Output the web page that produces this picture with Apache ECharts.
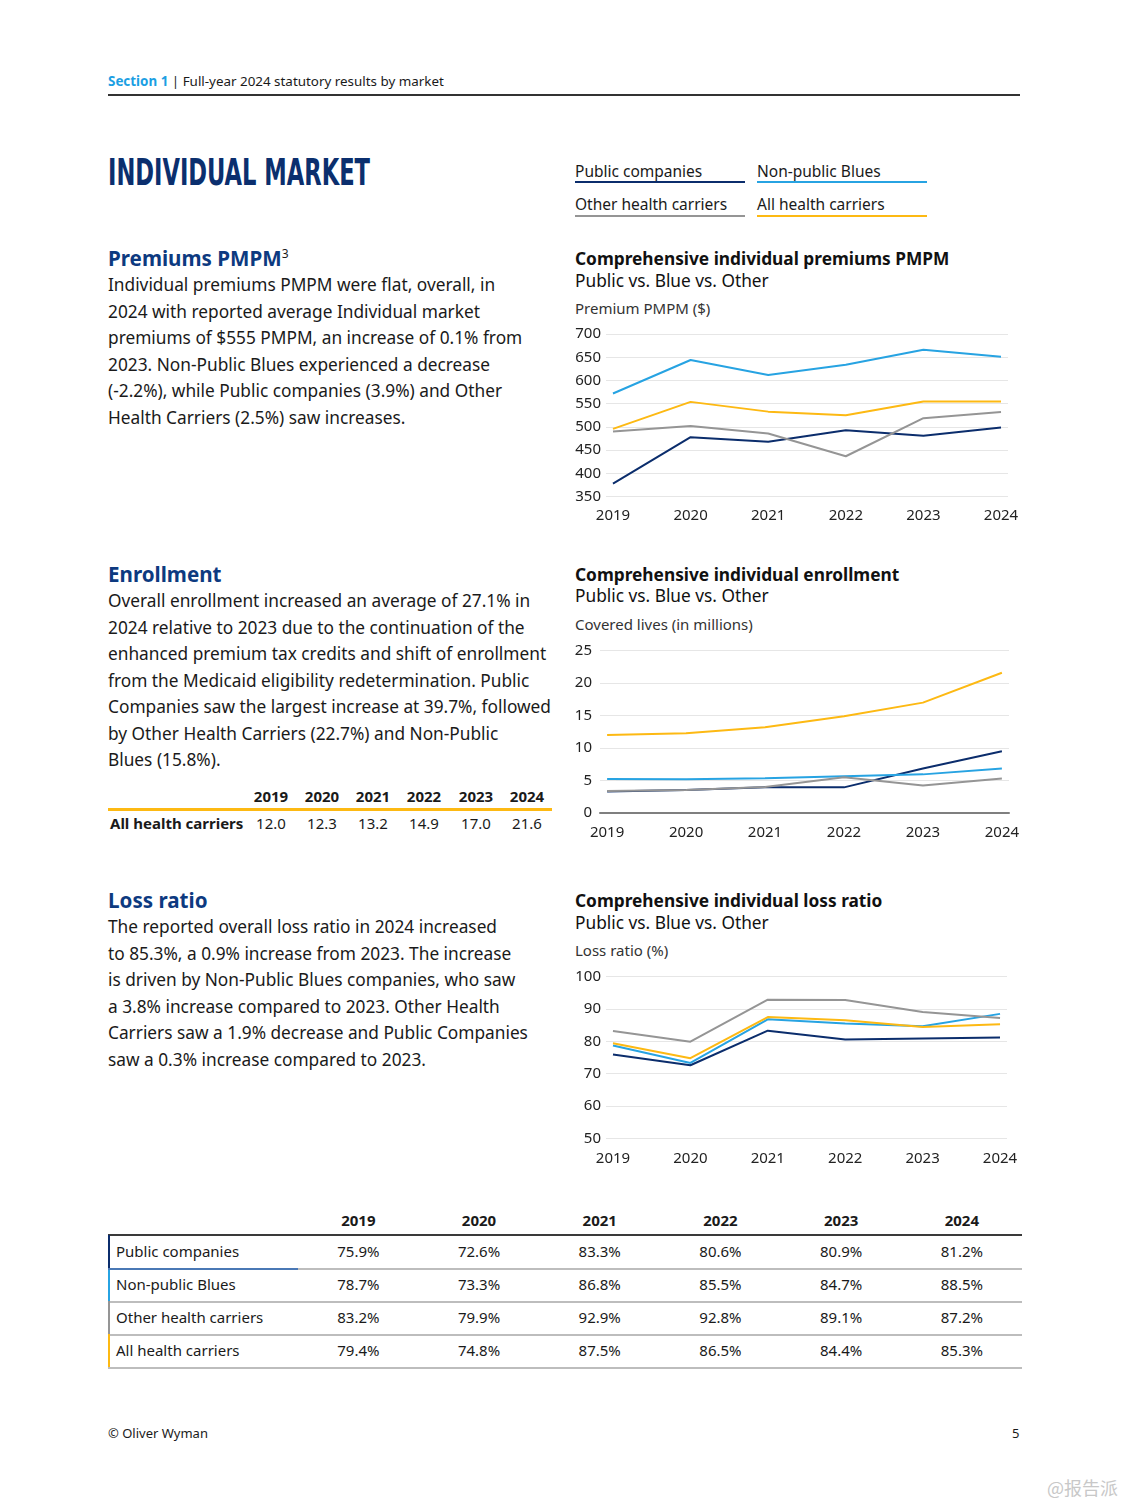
<!DOCTYPE html>
<html>
<head>
<meta charset="utf-8">
<script src="https://cdn.jsdelivr.net/npm/echarts@6/dist/echarts.min.js"></script>
<style>
  html, body { margin: 0; padding: 0; background: #fff; }
  body { width: 1128px; height: 1500px; position: relative; overflow: hidden; font-family: "Noto Sans", "Open Sans", sans-serif; color: #1a1a1a; }
  .t { position: absolute; white-space: nowrap; }
  .h2 { font-weight: 700; font-size: 20.6px; color: #0d3a80; line-height: 26px; }
  .p { font-size: 17.3px; line-height: 26.5px; color: #1a1a1a; }
  .ct { font-weight: 700; font-size: 17.3px; line-height: 22px; color: #111; }
  .cs { font-size: 17.3px; line-height: 22px; color: #111; }
  .ax { font-size: 15px; line-height: 20px; color: #333; }
  .lg { font-size: 15.5px; line-height: 20px; color: #1a1a1a; }
  .bar { position: absolute; height: 2px; }
  #chart { position: absolute; left: 0; top: 0; width: 1128px; height: 1500px; }
</style>
</head>
<body>

<!-- header -->
<div class="t" style="left:108px; top:71px; font-size:13.4px; line-height:20px;"><span style="color:#1c9fe3; font-weight:700;">Section 1</span> | Full-year 2024 statutory results by market</div>
<div class="bar" style="left:108px; top:94px; width:912px; height:1.5px; background:#333;"></div>

<div id="title" class="t" style="left:108px; top:150px; font-family:'Liberation Sans Narrow','DejaVu Sans Condensed',sans-serif; font-weight:700; font-size:37px; line-height:46px; color:#0b2f6e; transform-origin:0 50%;">INDIVIDUAL MARKET</div>

<!-- legend -->
<div class="t lg" style="left:575px; top:161px;">Public companies</div>
<div class="bar" style="left:575px; top:181px; width:170px; background:#0b2d6c;"></div>
<div class="t lg" style="left:757px; top:161px;">Non-public Blues</div>
<div class="bar" style="left:757px; top:181px; width:170px; background:#27a3e2;"></div>
<div class="t lg" style="left:575px; top:194px;">Other health carriers</div>
<div class="bar" style="left:575px; top:215px; width:170px; background:#959595;"></div>
<div class="t lg" style="left:757px; top:194px;">All health carriers</div>
<div class="bar" style="left:757px; top:215px; width:170px; background:#fdb913;"></div>

<!-- Premiums section -->
<div class="t h2" style="left:108px; top:245px;">Premiums PMPM<sup style="font-size:12px; font-weight:400; vertical-align:8px; line-height:0; color:#1a1a1a;">3</sup></div>
<div class="t p" style="left:108px; top:272px;">Individual premiums PMPM were flat, overall, in<br>2024 with reported average Individual market<br>premiums of $555 PMPM, an increase of 0.1% from<br>2023. Non-Public Blues experienced a decrease<br>(-2.2%), while Public companies (3.9%) and Other<br>Health Carriers (2.5%) saw increases.</div>

<div class="t ct" style="left:575px; top:248px;">Comprehensive individual premiums PMPM</div>
<div class="t cs" style="left:575px; top:270px;">Public vs. Blue vs. Other</div>
<div class="t ax" style="left:575px; top:298px;">Premium PMPM ($)</div>

<!-- Enrollment section -->
<div class="t h2" style="left:108px; top:561px;">Enrollment</div>
<div class="t p" style="left:108px; top:588px;">Overall enrollment increased an average of 27.1% in<br>2024 relative to 2023 due to the continuation of the<br>enhanced premium tax credits and shift of enrollment<br>from the Medicaid eligibility redetermination. Public<br>Companies saw the largest increase at 39.7%, followed<br>by Other Health Carriers (22.7%) and Non-Public<br>Blues (15.8%).</div>

<div id="enrTable"></div>

<div class="t ct" style="left:575px; top:564px;">Comprehensive individual enrollment</div>
<div class="t cs" style="left:575px; top:585px;">Public vs. Blue vs. Other</div>
<div class="t ax" style="left:575px; top:614px;">Covered lives (in millions)</div>

<!-- Loss ratio section -->
<div class="t h2" style="left:108px; top:887px;">Loss ratio</div>
<div class="t p" style="left:108px; top:914px;">The reported overall loss ratio in 2024 increased<br>to 85.3%, a 0.9% increase from 2023. The increase<br>is driven by Non-Public Blues companies, who saw<br>a 3.8% increase compared to 2023. Other Health<br>Carriers saw a 1.9% decrease and Public Companies<br>saw a 0.3% increase compared to 2023.</div>

<div class="t ct" style="left:575px; top:890px;">Comprehensive individual loss ratio</div>
<div class="t cs" style="left:575px; top:912px;">Public vs. Blue vs. Other</div>
<div class="t ax" style="left:575px; top:940px;">Loss ratio (%)</div>

<div id="lossTable"></div>

<!-- footer -->
<div class="t" style="left:108px; top:1423px; font-size:13px; line-height:20px;">© Oliver Wyman</div>
<div class="t" style="left:1012px; top:1423px; font-size:13px; line-height:20px;">5</div>
<div class="t" style="left:1047px; top:1476px; font-size:18px; line-height:22px; color:#c8c8c8; font-family:'Noto Sans CJK SC',sans-serif;">@报告派</div>

<div id="chart"></div>

<script>
// ---------------- data ----------------
const years = [2019, 2020, 2021, 2022, 2023, 2024];
const seriesNames = ['Public companies', 'Non-public Blues', 'Other health carriers', 'All health carriers'];

const premPublic = [378, 478, 468, 493, 481, 499];
const premBlues  = [572, 644, 612, 634, 666, 651];
const premOther  = [490, 502, 486, 437, 519, 532];
const premAll    = [496, 554, 533, 525, 555, 555];

const enrPublic = [3.3, 3.55, 3.95, 3.95, 6.85, 9.5];
const enrBlues  = [5.25, 5.2, 5.35, 5.65, 5.95, 6.85];
const enrOther  = [3.4, 3.55, 4.0, 5.5, 4.25, 5.3];
const enrAll    = [12.0, 12.3, 13.2, 14.9, 17.0, 21.6];

const lossPublic = [75.9, 72.6, 83.3, 80.6, 80.9, 81.2];
const lossBlues  = [78.7, 73.3, 86.8, 85.5, 84.7, 88.5];
const lossOther  = [83.2, 79.9, 92.9, 92.8, 89.1, 87.2];
const lossAll    = [79.4, 74.8, 87.5, 86.5, 84.4, 85.3];

const premTicks = [350, 700, 50];
const enrTicks  = [0, 25, 5];
const lossTicks = [50, 100, 10];

// ---------------- styles ----------------
const colors = ['#0b2d6c', '#27a3e2', '#959595', '#fdb913'];
const FONT = '"Noto Sans", "Open Sans", sans-serif';

// title squeeze
(function(){
  const el = document.getElementById('title');
  const w = el.getBoundingClientRect().width;
  el.style.transform = 'scaleX(' + (262 / w) + ')';
})();

// enrollment table
(function(){
  const host = document.getElementById('enrTable');
  const centers = [271, 322, 373, 424, 476, 527];
  let html = '';
  years.forEach((y, i) => {
    html += '<div class="t" style="left:' + (centers[i] - 25) + 'px; width:50px; text-align:center; top:786px; font-size:15px; line-height:20px; font-weight:700;">' + y + '</div>';
    html += '<div class="t" style="left:' + (centers[i] - 25) + 'px; width:50px; text-align:center; top:813px; font-size:15px; line-height:20px;">' + enrAll[i].toFixed(1) + '</div>';
  });
  html += '<div class="bar" style="left:108px; top:808px; width:444px; height:2.5px; background:#fdb913;"></div>';
  html += '<div class="t" style="left:110px; top:813px; font-size:15px; line-height:20px; font-weight:700;">All health carriers</div>';
  host.innerHTML = html;
})();

// loss table
(function(){
  const host = document.getElementById('lossTable');
  const rows = [lossPublic, lossBlues, lossOther, lossAll];
  const rowTop = [1235, 1268, 1301, 1334];
  const colLeft = 298, colW = 120.7;
  let html = '';
  years.forEach((y, i) => {
    html += '<div class="t" style="left:' + (colLeft + colW * i) + 'px; width:' + colW + 'px; text-align:center; top:1210px; font-size:15px; line-height:20px; font-weight:700;">' + y + '</div>';
  });
  html += '<div class="bar" style="left:108px; top:1234px; width:914px; height:2px; background:#3a3a3a;"></div>';
  rows.forEach((r, k) => {
    const top = rowTop[k];
    html += '<div class="bar" style="left:108px; top:' + top + 'px; width:2px; height:33px; background:' + colors[k] + ';"></div>';
    html += '<div class="t" style="left:116px; top:' + (top + 6) + 'px; font-size:15px; line-height:20px;">' + seriesNames[k] + '</div>';
    r.forEach((v, i) => {
      html += '<div class="t" style="left:' + (colLeft + colW * i) + 'px; width:' + colW + 'px; text-align:center; top:' + (top + 6) + 'px; font-size:15px; line-height:20px;">' + v.toFixed(1) + '%</div>';
    });
    html += '<div class="bar" style="left:108px; top:' + (top + 33) + 'px; width:914px; height:1.5px; background:#bdbdbd;"></div>';
  });
  html += '<div class="bar" style="left:108px; top:1268px; width:190px; height:1.5px; background:#4a78b5;"></div>';
  host.innerHTML = html;
})();

// ---------------- charts ----------------
const chart = echarts.init(document.getElementById('chart'), null, { renderer: 'canvas', width: 1128, height: 1500 });

function xAx(gi, margin, lineShow) {
  return {
    type: 'value', gridIndex: gi, min: 2018.91, max: 2024.09,
    axisLine: { show: lineShow, lineStyle: { color: '#7f7f7f', width: 2 } },
    axisTick: { show: false }, splitLine: { show: false },
    axisLabel: {
      customValues: years,
      margin: margin, color: '#222', fontSize: 15, fontFamily: FONT,
      formatter: v => String(v)
    }
  };
}
function yAx(gi, ticks, margin) {
  return {
    type: 'value', gridIndex: gi, min: ticks[0], max: ticks[1], interval: ticks[2],
    axisLine: { show: false }, axisTick: { show: false },
    splitLine: { show: true, lineStyle: { color: '#e6e6e6', width: 1 } },
    axisLabel: { margin: margin, color: '#222', fontSize: 15, fontFamily: FONT }
  };
}
function lines(gi, arrs) {
  return arrs.map((a, k) => ({
    name: seriesNames[k], type: 'line', xAxisIndex: gi, yAxisIndex: gi,
    data: years.map((y, i) => [y, a[i]]),
    showSymbol: false, symbol: 'none', smooth: false,
    lineStyle: { color: colors[k], width: 2 }, itemStyle: { color: colors[k] },
    z: 2 + k
  }));
}

chart.setOption({
  animation: false,
  backgroundColor: 'transparent',
  grid: [
    { left: 606, top: 334, width: 402, height: 162.7 },
    { left: 600, top: 650.7, width: 409, height: 162.3 },
    { left: 606, top: 976.7, width: 401, height: 161.6 }
  ],
  xAxis: [xAx(0, 12, false), xAx(1, 12, true), xAx(2, 13, false)],
  yAxis: [yAx(0, premTicks, 5), yAx(1, enrTicks, 8), yAx(2, lossTicks, 5)],
  series: [].concat(
    lines(0, [premPublic, premBlues, premOther, premAll]),
    lines(1, [enrPublic, enrBlues, enrOther, enrAll]),
    lines(2, [lossPublic, lossBlues, lossOther, lossAll])
  )
});
</script>
</body>
</html>
